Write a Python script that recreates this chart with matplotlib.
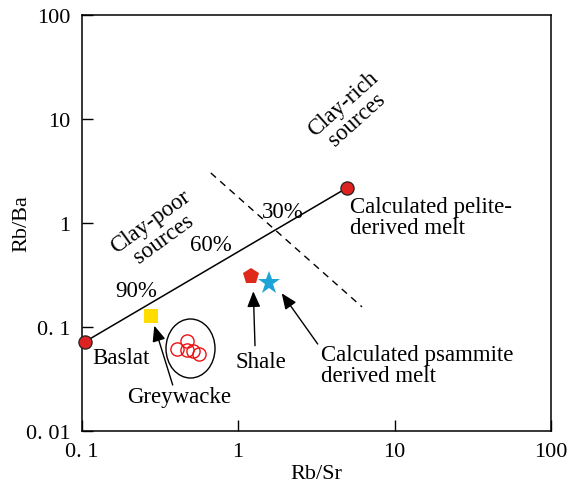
import numpy as np
import matplotlib
matplotlib.use("Agg")
import matplotlib.pyplot as plt
from matplotlib.path import Path
from matplotlib.ticker import FixedLocator, FixedFormatter, NullLocator

# ---------------- data ----------------
mix_x = [0.105, 4.95]          # Basalt -> calculated pelite-derived melt
mix_y = [0.072, 2.17]
boundary_x = [0.67, 6.2]       # clay-poor / clay-rich divide (dashed)
boundary_y = [3.03, 0.156]
greywacke_x = [0.28]
greywacke_y = [0.127]
shale_x = [1.21]
shale_y = [0.311]
psammite_x = [1.58]
psammite_y = [0.263]
sample_x = [0.405, 0.469, 0.472, 0.516, 0.564]
sample_y = [0.0614, 0.0733, 0.0601, 0.0588, 0.055]
ellipse_x = [0.493]
ellipse_y = [0.0628]

xticks = [0.1, 1, 10, 100]
xticklabels = ["0. 1", "1", "10", "100"]
yticks = [0.01, 0.1, 1, 10, 100]
yticklabels = ["0. 01", "0. 1", "1", "10", "100"]

# ---------------- style ----------------
plt.rcParams['font.family'] = ['Liberation Serif', 'DejaVu Serif']
FS = 16.5

fig = plt.figure(figsize=(5.79, 4.89), dpi=100)
ax = fig.add_axes([81.5/579, 1 - 432/489, 469.5/579, 416/489])
ax.set_xscale('log')
ax.set_yscale('log')
ax.set_xlim(0.1, 100)
ax.set_ylim(0.01, 100)

ax.xaxis.set_major_locator(FixedLocator(xticks))
ax.xaxis.set_major_formatter(FixedFormatter(xticklabels))
ax.yaxis.set_major_locator(FixedLocator(yticks))
ax.yaxis.set_major_formatter(FixedFormatter(yticklabels))
ax.xaxis.set_minor_locator(NullLocator())
ax.yaxis.set_minor_locator(NullLocator())
ax.tick_params(direction='in', length=8, width=1, pad=8, labelsize=16,
               top=False, right=False)
for s in ax.spines.values():
    s.set_linewidth(1.1)

ax.set_xlabel("Rb/Sr", fontsize=16, labelpad=2)
ax.set_ylabel("Rb/Ba", fontsize=16, labelpad=-4)

# lines
ax.plot(mix_x, mix_y, color='black', lw=1.1, zorder=2)
ax.plot(boundary_x, boundary_y, color='black', lw=1.0, ls=(0, (5, 4)), zorder=2)

# points
ax.plot(mix_x, mix_y, ls='none', marker='o', ms=9.5, mfc='#dd2222',
        mec='#222222', mew=0.9, zorder=4, clip_on=False)
ax.plot(greywacke_x, greywacke_y, ls='none', marker='s', ms=10.5,
        mfc='#ffdd00', mec='#ffdd00', mew=0, zorder=4)
ax.plot(shale_x, shale_y, ls='none', marker='p', ms=12, mfc='#dd2a1b',
        mec='#dd2a1b', mew=0, zorder=4)
ax.plot(psammite_x, psammite_y, ls='none', marker='*', ms=17,
        mfc='#1ea3d6', mec='#1ea3d6', mew=0, zorder=4)
ax.plot(sample_x, sample_y, ls='none', marker='o', ms=9.5, mfc='none',
        mec='#ee1111', mew=1.0, zorder=4)

# ellipse around samples (custom marker)
circ = Path.unit_circle()
ell = Path(circ.vertices * np.array([49/59, 1.0]), circ.codes)
ax.plot(ellipse_x, ellipse_y, ls='none', marker=ell, ms=42.5, mfc='none',
        mec='black', mew=1.0, zorder=3)


def P(xp, yp):
    """reference pixel position -> axes fraction"""
    return ((xp - 81.5) / 469.5, (432 - yp) / 416)


def txt(xp, yp, s, **kw):
    kw.setdefault('fontsize', FS)
    kw.setdefault('ha', 'center')
    kw.setdefault('va', 'center')
    ax.text(*P(xp, yp), s, transform=ax.transAxes, **kw)


txt(92, 358, "Baslat", ha='left')
txt(179, 398, "Greywacke")
txt(260.5, 362.5, "Shale")
txt(321, 366, "Calculated psammite\nderived melt", ha='left',
    multialignment='left', linespacing=1.0)
txt(350, 217.5, "Calculated pelite-\nderived melt", ha='left',
    multialignment='left', linespacing=1.0)
txt(283, 213, "30%")
txt(211, 246, "60%")
txt(136, 291.5, "90%")
txt(157, 231, "Clay-poor\nsources", rotation=36, linespacing=1.0)
txt(350, 112, "Clay-rich\nsources", rotation=42, linespacing=1.0)

# arrows
arrows = [((154.3, 326.7), (172.7, 386)),
          ((253.3, 292.3), (255, 346.7)),
          ((281.7, 294.3), (317.7, 345))]
for head, tail in arrows:
    ax.annotate('', xy=P(*head), xytext=P(*tail),
                xycoords='axes fraction', textcoords='axes fraction',
                arrowprops=dict(arrowstyle='-|>,head_length=0.95,head_width=0.4',
                                mutation_scale=10, color='black', lw=1.0,
                                shrinkA=0, shrinkB=0))

fig.savefig("out.png", dpi=100)
